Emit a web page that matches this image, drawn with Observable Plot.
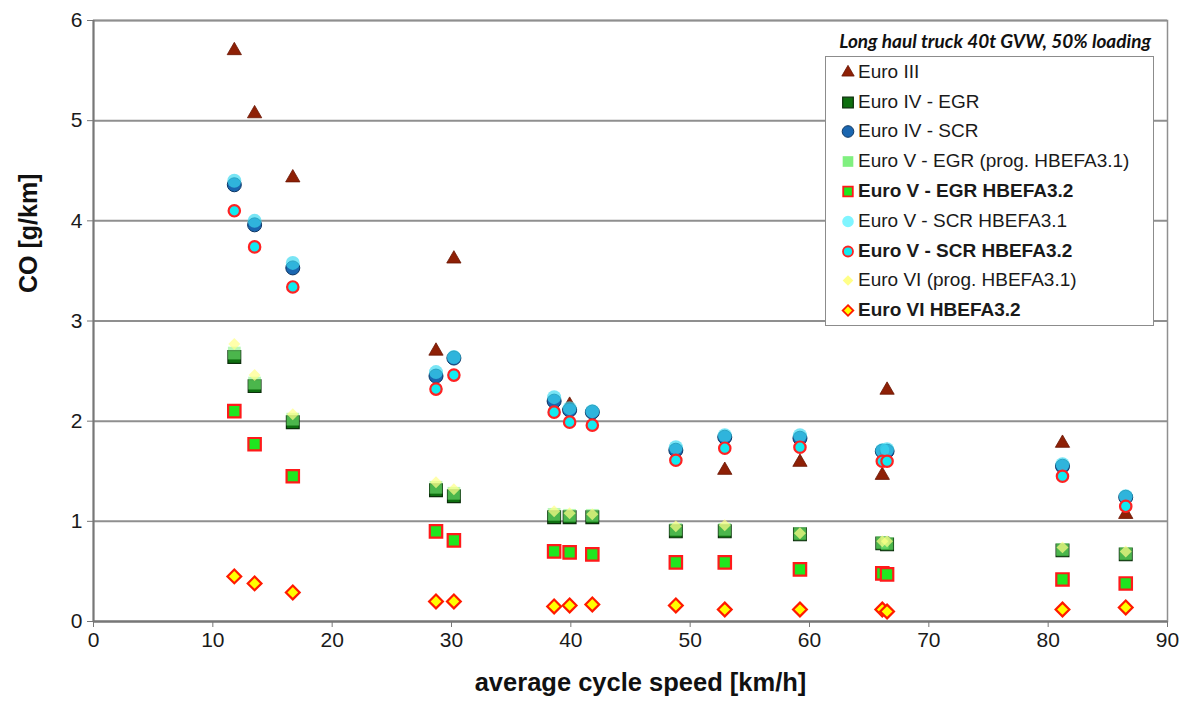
<!DOCTYPE html>
<html><head><meta charset="utf-8">
<script src="https://cdn.jsdelivr.net/npm/d3@7"></script>
<script src="https://cdn.jsdelivr.net/npm/@observablehq/plot@0.6"></script>
<style>
body{margin:0;background:#fff;font-family:"Liberation Sans",Arial,sans-serif;}
#wrap{position:relative;width:1189px;height:704px;overflow:hidden;}
#ltitle{position:absolute;right:38px;top:29px;font-family:Lato,"Open Sans",sans-serif;font-style:italic;font-weight:bold;font-size:19px;color:#111;white-space:nowrap;}
#legend{position:absolute;left:825px;top:56px;width:329px;height:270px;background:#fff;border:1.5px solid #8c8c8c;box-sizing:border-box;padding-top:0px;}
.lrow{height:29.8px;display:flex;align-items:center;font-size:19px;color:#1a1a1a;white-space:nowrap;}
.lrow svg{margin-left:13px;margin-right:1px;flex:none;}
.lrow.b{font-weight:bold;}
</style></head><body><div id="wrap"></div>
<script>
// average cycle speeds [km/h]
const speeds = [11.8, 13.5, 16.7, 28.7, 30.2, 38.6, 39.9, 41.8, 48.8, 52.9, 59.2, 66.1, 66.5, 81.2, 86.5];
// CO [g/km] per series (null = not visible)
const euroIII      = [5.70, 5.07, 4.43, 2.70, 3.62, null, 2.16, null, null, 1.51, 1.59, 1.46, 2.31, 1.78, 1.07];
const euroIV_EGR   = [2.64, 2.35, 1.99, 1.31, 1.25, 1.04, 1.04, 1.04, 0.90, 0.90, 0.87, 0.78, 0.77, 0.71, 0.67];
const euroIV_SCR   = [4.36, 3.96, 3.53, 2.45, 2.63, 2.20, 2.11, 2.09, 1.71, 1.84, 1.83, 1.70, 1.70, 1.55, 1.24];
const euroV_EGR31  = [2.68, 2.38, 2.02, 1.34, 1.28, 1.07, 1.06, 1.06, 0.92, 0.92, 0.88, 0.79, 0.78, 0.72, 0.68];
const euroV_EGR32  = [2.10, 1.77, 1.45, 0.90, 0.81, 0.70, 0.69, 0.67, 0.59, 0.59, 0.52, 0.48, 0.47, 0.42, 0.38];
const euroV_SCR31  = [4.40, 4.00, 3.58, 2.49, 2.64, 2.24, 2.13, 2.10, 1.74, 1.86, 1.86, 1.71, 1.72, 1.57, 1.25];
const euroV_SCR32  = [4.10, 3.74, 3.34, 2.32, 2.46, 2.09, 1.99, 1.96, 1.61, 1.73, 1.74, 1.60, 1.60, 1.45, 1.15];
const euroVI_31    = [2.77, 2.46, 2.07, 1.39, 1.32, 1.10, 1.08, 1.07, 0.95, 0.96, 0.88, 0.80, 0.80, 0.74, 0.70];
const euroVI_32    = [0.45, 0.38, 0.29, 0.20, 0.20, 0.15, 0.16, 0.17, 0.16, 0.12, 0.12, 0.12, 0.10, 0.12, 0.14];

const seriesNames = ["Euro III","Euro IV - EGR","Euro IV - SCR","Euro V - EGR (prog. HBEFA3.1)","Euro V - EGR HBEFA3.2","Euro V - SCR HBEFA3.1","Euro V - SCR HBEFA3.2","Euro VI (prog. HBEFA3.1)","Euro VI HBEFA3.2"];
const seriesValues = [euroIII, euroIV_EGR, euroIV_SCR, euroV_EGR31, euroV_EGR32, euroV_SCR31, euroV_SCR32, euroVI_31, euroVI_32];
const xTicks = [0,10,20,30,40,50,60,70,80,90];
const yTicks = [0,1,2,3,4,5,6];
const titleText = "Long haul truck 40t GVW, 50% loading";
const xLabel = "average cycle speed [km/h]";
const yLabel = "CO [g/km]";

// styles
const styles = [
  {symbol:"triangle", r:5.3, fill:"#8e2006", stroke:"#6a1503", sw:0.8, op:1, bold:false, lr:4.6},
  {symbol:"square",   r:7.2, fill:"#0e6f10", stroke:"#0a2e0a", sw:1.2, op:1, bold:false, lr:6.0},
  {symbol:"circle",   r:7.0, fill:"#1a66b0", stroke:"#0b3563", sw:1, op:1, bold:false, lr:5.8},
  {symbol:"square",   r:7.2, fill:"#7ef07e", stroke:"none", sw:0, op:0.55, bold:false, lr:6.0},
  {symbol:"square",   r:7.0, fill:"#1fe61f", stroke:"#ff1a1a", sw:2.2, op:1, bold:true, lr:5.4},
  {symbol:"circle",   r:7.0, fill:"#3ad8f0", stroke:"none", sw:0, op:0.68, bold:false, lr:5.8},
  {symbol:"circle",   r:5.7, fill:"#12eaf0", stroke:"#ff2222", sw:2.2, op:1, bold:true, lr:5.0},
  {symbol:"diamond2", r:5.4, fill:"#ffff88", stroke:"none", sw:0, op:0.7, bold:false, lr:4.8},
  {symbol:"diamond2", r:6.2, fill:"#ffff00", stroke:"#ff1a00", sw:2.2, op:1, bold:true, lr:4.8}
];
const legendFill = ["#8e2006","#0e6f10","#1a66b0","#80f080","#1fe61f","#80f5ff","#12eaf0","#ffff88","#ffff00"];

const dotMarks = seriesValues.map((vals, si) => {
  const rows = [];
  vals.forEach((v, i) => { if (v != null) rows.push({x: speeds[i], y: v}); });
  const s = styles[si];
  return Plot.dot(rows, {x:"x", y:"y", symbol:s.symbol, r:s.r, fill:s.fill, fillOpacity:s.op,
    stroke:s.stroke, strokeWidth:s.sw});
});

const chart = Plot.plot({
  width:1189, height:704,
  marginLeft:93, marginRight:22, marginTop:20, marginBottom:83,
  x:{domain:[0,90]},
  y:{domain:[0,6]},
  style:{fontFamily:"'Liberation Sans', Arial, sans-serif", fontSize:"21px", color:"#1a1a1a", background:"#fff"},
  marks:[
    Plot.gridY(yTicks, {stroke:"#8f8f8f", strokeOpacity:1, strokeWidth:2}),
    Plot.frame({stroke:"#8f8f8f", strokeWidth:1.5}),
    Plot.axisX(xTicks, {tickSize:6, tickPadding:5, label:null, stroke:"#777", fontSize:21, tickFormat:d=>String(d)}),
    Plot.axisY(yTicks, {tickSize:6, tickPadding:5, label:null, stroke:"#777", fontSize:21, tickFormat:d=>String(d)}),
    Plot.ruleX([0], {stroke:"#777", strokeWidth:2}),
    Plot.ruleY([0], {stroke:"#777", strokeWidth:2}),
    ...dotMarks,
    Plot.text([yLabel], {text:d=>d, frameAnchor:"left", dx:-65, dy:-28, rotate:-90, fontSize:25, fontWeight:"bold", fill:"#111"}),
    Plot.text([xLabel], {text:d=>d, frameAnchor:"bottom", dy:69, dx:10, fontSize:25.5, fontWeight:"bold", fill:"#111"})
  ]
});
const wrap = document.getElementById("wrap");
wrap.appendChild(chart);

// legend
const t = document.createElement("div"); t.id = "ltitle"; t.textContent = titleText; wrap.appendChild(t);
const lg = document.createElement("div"); lg.id = "legend"; wrap.appendChild(lg);
const symMap = {triangle:d3.symbolTriangle, square:d3.symbolSquare, circle:d3.symbolCircle, diamond2:d3.symbolDiamond2};
seriesNames.forEach((name, i) => {
  const s = styles[i];
  const row = document.createElement("div"); row.className = "lrow" + (s.bold ? " b" : "");
  const svg = d3.create("svg").attr("width", 18).attr("height", 18);
  svg.append("path").attr("transform", "translate(9,9.5)")
    .attr("d", d3.symbol(symMap[s.symbol], Math.PI * s.lr * s.lr)())
    .attr("fill", legendFill[i]).attr("stroke", s.stroke === "none" ? "none" : s.stroke)
    .attr("stroke-width", s.sw ? Math.min(s.sw, 1.8) : 0);
  row.appendChild(svg.node());
  const span = document.createElement("span"); span.textContent = name; row.appendChild(span);
  lg.appendChild(row);
});
</script>
</body></html>
